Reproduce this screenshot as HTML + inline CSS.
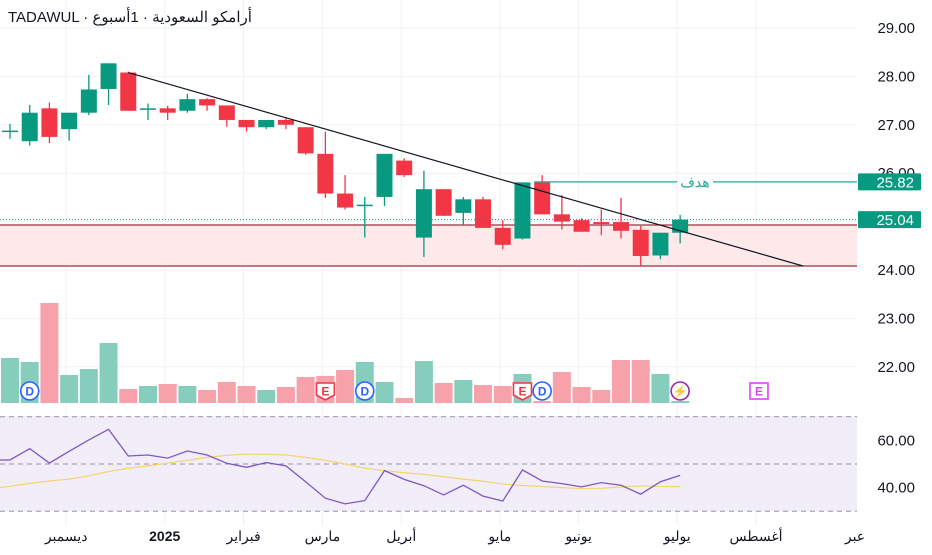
<!DOCTYPE html>
<html><head><meta charset="utf-8">
<style>
html,body{margin:0;padding:0;background:#fff;}
body{width:932px;height:550px;overflow:hidden;font-family:"Liberation Sans","Noto Sans CJK SC",sans-serif;}
svg text{font-family:"Liberation Sans","Noto Sans CJK SC",sans-serif;}
</style></head>
<body>
<svg id="chart" width="932" height="550" viewBox="0 0 932 550" xmlns="http://www.w3.org/2000/svg">
  <g id="grid"></g>
  <rect x="0" y="416" width="857" height="95" fill="#f1eefa"/>
  <rect x="0" y="225" width="857" height="41" fill="#fde8ea"/>
  <line x1="0" y1="225" x2="857" y2="225" stroke="#9c2f3f" stroke-width="1.2"/>
  <line x1="0" y1="266" x2="857" y2="266" stroke="#9c2f3f" stroke-width="1.2"/>
  <g id="vol"></g>
  <g id="candles"></g>
  <g id="rsi"></g>
  <g id="axis"></g>
  <g id="taxis"></g>
  <text x="8" y="22" font-size="15" fill="#131722" direction="ltr">TADAWUL · أرامكو السعودية · 1أسبوع</text>
</svg>
<script>
const opens  =[26.86,26.66,27.34,26.91,27.25,27.74,28.08,27.32,27.34,27.29,27.53,27.40,27.10,26.95,27.10,26.95,26.40,25.58,25.33,25.51,26.26,24.67,25.67,25.18,25.46,24.87,24.65,25.81,25.15,25.03,24.99,24.99,24.83,24.30,24.77];
const closes =[26.88,27.25,26.75,27.25,27.73,28.27,27.29,27.34,27.25,27.53,27.40,27.10,26.95,27.10,27.00,26.41,25.58,25.29,25.35,26.40,25.96,25.67,25.12,25.46,24.87,24.52,25.81,25.15,25.00,24.79,24.95,24.81,24.29,24.77,25.04];
const highs  =[27.02,27.41,27.46,27.25,28.03,28.27,28.10,27.44,27.39,27.64,27.55,27.40,27.10,27.10,27.15,26.95,26.86,25.96,25.51,26.40,26.31,26.05,25.67,25.51,25.51,25.03,25.81,25.96,25.55,25.07,25.25,25.49,24.91,24.77,25.14];
const lows   =[26.71,26.57,26.62,26.67,27.20,27.41,27.29,27.10,27.10,27.25,27.29,26.96,26.86,26.91,26.91,26.38,25.49,25.25,24.67,25.32,25.92,24.27,25.12,24.93,24.87,24.43,24.63,25.15,24.84,24.79,24.72,24.65,24.08,24.22,24.55];
const volumes=[45,41,100,28,34,60,14,17,19,17,13,21,17,13,16,26,27,33,41,21,5,42,20,23,18,17,29,2,31,16,13,43,43,29,2];
const rsiValues=[51.7,56.5,50.4,55.4,60.2,64.7,53.4,53.8,52.5,55.5,53.8,50.3,48.6,50.6,49.2,42.5,35.5,33.1,34.5,47.2,43.5,40.8,36.9,41.0,36.4,34.3,47.5,42.8,41.7,40.3,42.1,41.0,37.2,42.5,45.2];
const rsiMA=[40.5,41.8,42.8,43.6,45.0,46.8,48.2,49.2,50.4,51.6,52.8,53.7,54.2,54.1,53.8,52.8,51.6,50.0,48.2,47.2,46.3,45.6,44.6,43.6,42.7,41.5,40.9,40.4,40.0,39.6,39.7,40.3,40.7,40.5,40.4];
const priceTicks=[29,28,27,26,24,23,22];
const rsiTicks=[60,40];
const monthLabels=["ديسمبر","2025","فبراير","مارس","أبريل","مايو","يونيو","يوليو","أغسطس","عبر"];
const monthIdx=[3,8,12,16,20,25,29,34,38,43];
const lastPrice=25.04, targetPrice=25.82;

const NS="http://www.w3.org/2000/svg";
const X=i=>10+i*19.71;
const Y=p=>28+(29-p)*48.4;
const VY=v=>403-v*1.0;
const RY=v=>464-(v-50)*2.36;
function mk(tag,attrs,parent){const e=document.createElementNS(NS,tag);for(const k in attrs)e.setAttribute(k,attrs[k]);parent.appendChild(e);return e;}
const G=id=>document.getElementById(id);

const grid=G('grid');
monthIdx.slice(0,9).forEach(i=>{const e=mk('line',{x1:X(i-0.15),x2:X(i-0.15),y1:0,y2:525,stroke:'#eff0f3','stroke-width':1},grid);

});
[29,28,27,26,25,24,23,22].forEach(p=>{const e=mk('line',{x1:0,x2:857,y1:Y(p),y2:Y(p),stroke:'#f1f2f5'},grid);

});

const vol=G('vol');
volumes.forEach((v,i)=>{const up=closes[i]>=opens[i];
const r=mk('rect',{x:X(i)-9,y:VY(v),width:18,height:403-VY(v),fill:up?'#86cdbd':'#f7a1ab'},vol);

});

const cg=G('candles');
opens.forEach((o,i)=>{const c=closes[i],up=c>=o,col=up?'#089981':'#f23645';
const g=mk('g',{},cg);


mk('line',{x1:X(i),x2:X(i),y1:Y(highs[i]),y2:Y(lows[i]),stroke:col,'stroke-width':1.3},g);
const t=Y(Math.max(o,c)),b=Y(Math.min(o,c));
mk('rect',{x:X(i)-8,y:t,width:16,height:Math.max(1.5,b-t),fill:col},g);});

const tl=mk('line',{x1:X(6),y1:Y(28.08),x2:803,y2:266,stroke:'#131722','stroke-width':1.2},cg);


const lp=mk('line',{x1:0,x2:857,y1:Y(lastPrice),y2:Y(lastPrice),stroke:'#089981','stroke-dasharray':'1 2'},cg);


const t1=mk('line',{x1:X(27)-8,x2:677,y1:Y(targetPrice),y2:Y(targetPrice),stroke:'#22ab94','stroke-width':1.2},cg);


const t2=mk('line',{x1:713,x2:857,y1:Y(targetPrice),y2:Y(targetPrice),stroke:'#22ab94','stroke-width':1.2},cg);


const tt=mk('text',{x:695,y:Y(targetPrice)+5,'font-size':14,fill:'#22ab94','text-anchor':'middle'},cg);
tt.textContent='هدف';



const markers=[[1,'D','#2962ff','circle'],[16,'E','#f23645','shield'],[18,'D','#2962ff','circle'],[26,'E','#f23645','shield'],[27,'D','#2962ff','circle'],[34,'⚡','#9c27b0','circle'],[38,'E','#e040fb','square']];
markers.forEach(m=>{const x=X(m[0]),y=391;const g=mk('g',{},cg);


if(m[3]==='circle')mk('ellipse',{cx:x,cy:y,rx:9,ry:9,fill:'#fff',stroke:m[2],'stroke-width':1.6},g);
else if(m[3]==='shield')mk('path',{d:`M${x-9} ${y-8}h18v12l-9 5l-9 -5z`,fill:'#fff',stroke:m[2],'stroke-width':1.6},g);
else mk('rect',{x:x-9,y:y-8,width:18,height:16,fill:'#fff',stroke:m[2],'stroke-width':1.6},g);
const t=mk('text',{x:x,y:y+4.5,'font-size':12,'font-weight':'bold',fill:m[2],'text-anchor':'middle'},g);t.textContent=m[1];});

const rg=G('rsi');
[70,50,30].forEach(v=>{const e=mk('line',{x1:0,x2:857,y1:RY(v),y2:RY(v),stroke:'#9598a1','stroke-dasharray':'5 4'},rg);

});
const ma=mk('polyline',{points:'0,'+RY(40.1)+' '+rsiMA.map((v,i)=>X(i)+','+RY(v)).join(' '),fill:'none',stroke:'#f7d36b','stroke-width':1.2},rg);


const rl=mk('polyline',{points:'0,'+RY(rsiValues[0])+' '+rsiValues.map((v,i)=>X(i)+','+RY(v)).join(' '),fill:'none',stroke:'#7e57c2','stroke-width':1.3},rg);



const ax=G('axis');
priceTicks.forEach(p=>{const t=mk('text',{x:915,y:Y(p)+5,'font-size':15,fill:'#131722','text-anchor':'end'},ax);t.textContent=p.toFixed(2);

});
rsiTicks.forEach(v=>{const t=mk('text',{x:915,y:RY(v)+5,'font-size':15,fill:'#131722','text-anchor':'end'},ax);t.textContent=v.toFixed(2);

});
[[targetPrice,'#089981'],[lastPrice,'#089981']].forEach(a=>{const g=mk('g',{},ax);


mk('rect',{x:858,y:Y(a[0])-8.5,width:63,height:17,fill:a[1],rx:1},g);
const t=mk('text',{x:914,y:Y(a[0])+5.5,'font-size':15,fill:'#fff','text-anchor':'end'},g);t.textContent=a[0].toFixed(2);});

const ta=G('taxis');
monthLabels.forEach((l,k)=>{const x=k===9?855:X(monthIdx[k]-0.15);
const t=mk('text',{x:x,y:541,'font-size':14,fill:'#131722','text-anchor':'middle','font-weight':l==='2025'?'bold':'normal'},ta);t.textContent=l;

});
</script>
</body></html>
